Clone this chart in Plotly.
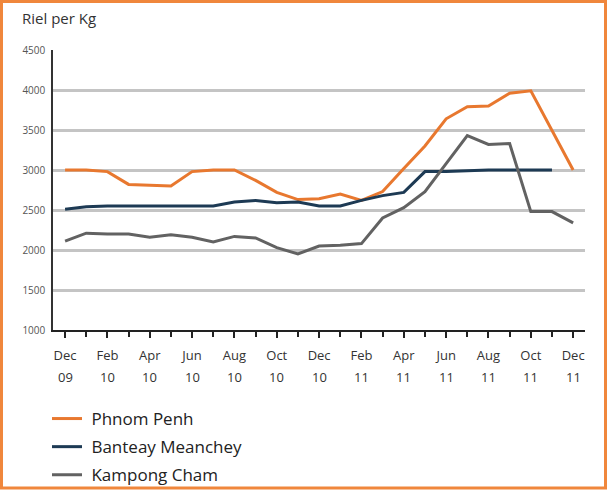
import plotly.graph_objects as go

month_labels = ["Dec", "Jan", "Feb", "Mar", "Apr", "May", "Jun", "Jul", "Aug", "Sep", "Oct", "Nov", "Dec",
                "Jan", "Feb", "Mar", "Apr", "May", "Jun", "Jul", "Aug", "Sep", "Oct", "Nov", "Dec"]
year_labels = ["09"] + ["10"] * 12 + ["11"] * 12

phnom_penh = [3000, 3000, 2980, 2820, 2810, 2800, 2980, 3000, 3000, 2870, 2720, 2630, 2640,
              2700, 2620, 2730, 3020, 3300, 3640, 3790, 3800, 3960, 3990, 3490, 3000]
banteay_meanchey = [2510, 2540, 2550, 2550, 2550, 2550, 2550, 2550, 2600, 2620, 2590, 2600, 2550,
                    2550, 2620, 2680, 2720, 2980, 2980, 2990, 3000, 3000, 3000, 3000, None]
kampong_cham = [2110, 2210, 2200, 2200, 2160, 2190, 2160, 2100, 2170, 2150, 2030, 1950, 2050,
                2060, 2080, 2400, 2530, 2730, 3080, 3430, 3320, 3330, 2480, 2480, 2340]

series_names = ["Phnom Penh", "Banteay Meanchey", "Kampong Cham"]
series_colors = ["#e8782f", "#1d3a54", "#626262"]

x = list(range(len(month_labels)))
tick_idx = x[::2]

FONT = "Open Sans"

W, H = 608, 490
L, R, T, B = 53, 23, 50, 160
pw, ph = W - L - R, H - T - B


def px_to_paper_x(px):
    return (px - L) / pw


def px_to_paper_y(py):
    return (H - B - py) / ph


fig = go.Figure()
for name, vals, col in zip(series_names, [phnom_penh, banteay_meanchey, kampong_cham], series_colors):
    fig.add_trace(go.Scatter(x=x, y=vals, name="\u00a0" + name, mode="lines", legendgroup=name,
                             line=dict(color=col, width=3), connectgaps=False))

fig.add_shape(type="rect", xref="paper", yref="paper",
              x0=px_to_paper_x(1.5), x1=px_to_paper_x(W - 2.5),
              y0=px_to_paper_y(H - 2), y1=px_to_paper_y(1.5),
              line=dict(color="#f0873c", width=3), fillcolor="rgba(0,0,0,0)", layer="below")

annotations = [dict(text="Riel per Kg", xref="paper", yref="paper",
                    x=px_to_paper_x(20), y=px_to_paper_y(18), xanchor="left", yanchor="middle",
                    showarrow=False, font=dict(size=15, color="#333333", family=FONT))]
for i in tick_idx:
    annotations.append(dict(text=year_labels[i], xref="x", yref="paper", x=i,
                            y=px_to_paper_y(377), xanchor="center", yanchor="middle",
                            showarrow=False, font=dict(size=13, color="#333333", family=FONT)))

fig.update_layout(
    width=W, height=H,
    margin=dict(l=L, r=R, t=T, b=B, autoexpand=False),
    paper_bgcolor="white", plot_bgcolor="white",
    font=dict(family=FONT, color="#333333"),
    showlegend=True,
    legend=dict(x=px_to_paper_x(47), y=px_to_paper_y(401), xanchor="left", yanchor="top",
                font=dict(size=17, color="#222222", family=FONT), tracegroupgap=3,
                itemwidth=30, bgcolor="rgba(0,0,0,0)"),
    annotations=annotations,
)

fig.update_xaxes(range=[-0.57, 24.56], tickmode="array", tickvals=tick_idx,
                 ticktext=[month_labels[i] for i in tick_idx],
                 showgrid=False, zeroline=False, showline=True, linecolor="#222222", linewidth=2,
                 ticks="outside", ticklen=6, tickwidth=1.5, tickcolor="#222222",
                 tickfont=dict(size=13, color="#333333", family=FONT), ticklabelstandoff=6,
                 minor=dict(tickmode="linear", tick0=0, dtick=1, ticks="outside", ticklen=5,
                            tickwidth=1.5, tickcolor="#222222", showgrid=False),
                 fixedrange=True)
fig.update_yaxes(range=[1000, 4500], tickmode="linear", tick0=1000, dtick=500,
                 showgrid=True, gridcolor="#c4c4c4", gridwidth=2.5, zeroline=False,
                 showline=True, linecolor="#333333", linewidth=1.5,
                 ticks="", tickfont=dict(size=10, color="#555555", family=FONT),
                 ticklabelstandoff=4, fixedrange=True)

fig.write_html("out.html", config={"displayModeBar": False},
               post_script="document.body.style.margin='0';document.body.style.overflow='hidden';")
